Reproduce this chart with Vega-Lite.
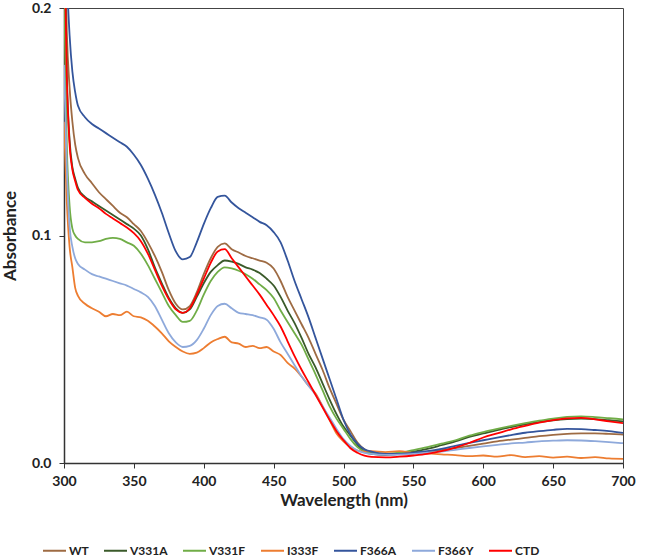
{
  "$schema": "https://vega.github.io/schema/vega-lite/v6.json",
  "width": 559,
  "height": 455,
  "autosize": {"type": "none"},
  "padding": {"left": 64, "top": 8, "right": 22, "bottom": 97},
  "background": "white",
  "config": {"font": "Lato", "view": {"stroke": "#444", "strokeWidth": 1}},
  "data": {"values": [
    {"w":300,"WT":0.25,"V331A":0.24,"V331F":0.21,"I333F":0.15,"F366A":0.26,"F366Y":0.175,"CTD":0.24},
    {"w":302,"WT":0.19,"V331A":0.17,"V331F":0.14,"I333F":0.115,"F366A":0.215,"F366Y":0.13,"CTD":0.17},
    {"w":304,"WT":0.165,"V331A":0.142,"V331F":0.113,"I333F":0.095,"F366A":0.188,"F366Y":0.104,"CTD":0.14},
    {"w":306,"WT":0.15,"V331A":0.13,"V331F":0.103,"I333F":0.086,"F366A":0.172,"F366Y":0.095,"CTD":0.129},
    {"w":308,"WT":0.14,"V331A":0.125,"V331F":0.1,"I333F":0.077,"F366A":0.163,"F366Y":0.09,"CTD":0.124},
    {"w":310,"WT":0.134,"V331A":0.121,"V331F":0.0985,"I333F":0.0735,"F366A":0.157,"F366Y":0.0875,"CTD":0.12},
    {"w":315,"WT":0.127,"V331A":0.117,"V331F":0.097,"I333F":0.07,"F366A":0.152,"F366Y":0.085,"CTD":0.1165},
    {"w":320,"WT":0.123,"V331A":0.115,"V331F":0.097,"I333F":0.068,"F366A":0.149,"F366Y":0.083,"CTD":0.114},
    {"w":325,"WT":0.119,"V331A":0.113,"V331F":0.0975,"I333F":0.0665,"F366A":0.147,"F366Y":0.082,"CTD":0.112},
    {"w":330,"WT":0.116,"V331A":0.111,"V331F":0.0985,"I333F":0.0645,"F366A":0.145,"F366Y":0.081,"CTD":0.1095},
    {"w":335,"WT":0.113,"V331A":0.109,"V331F":0.099,"I333F":0.0655,"F366A":0.143,"F366Y":0.08,"CTD":0.1075},
    {"w":340,"WT":0.11,"V331A":0.107,"V331F":0.0985,"I333F":0.065,"F366A":0.141,"F366Y":0.079,"CTD":0.1055},
    {"w":345,"WT":0.108,"V331A":0.105,"V331F":0.097,"I333F":0.0665,"F366A":0.139,"F366Y":0.078,"CTD":0.1035},
    {"w":350,"WT":0.105,"V331A":0.103,"V331F":0.0955,"I333F":0.0645,"F366A":0.1355,"F366Y":0.0765,"CTD":0.101},
    {"w":355,"WT":0.102,"V331A":0.1,"V331F":0.092,"I333F":0.064,"F366A":0.131,"F366Y":0.075,"CTD":0.0975},
    {"w":360,"WT":0.097,"V331A":0.094,"V331F":0.087,"I333F":0.0625,"F366A":0.125,"F366Y":0.073,"CTD":0.092},
    {"w":365,"WT":0.091,"V331A":0.086,"V331F":0.081,"I333F":0.06,"F366A":0.118,"F366Y":0.069,"CTD":0.085},
    {"w":370,"WT":0.084,"V331A":0.079,"V331F":0.075,"I333F":0.057,"F366A":0.11,"F366Y":0.063,"CTD":0.078},
    {"w":375,"WT":0.076,"V331A":0.0725,"V331F":0.069,"I333F":0.0535,"F366A":0.101,"F366Y":0.057,"CTD":0.072},
    {"w":380,"WT":0.07,"V331A":0.068,"V331F":0.065,"I333F":0.051,"F366A":0.093,"F366Y":0.053,"CTD":0.0675},
    {"w":385,"WT":0.0675,"V331A":0.066,"V331F":0.062,"I333F":0.049,"F366A":0.0895,"F366Y":0.051,"CTD":0.066},
    {"w":390,"WT":0.069,"V331A":0.0675,"V331F":0.0625,"I333F":0.048,"F366A":0.0905,"F366Y":0.0515,"CTD":0.068},
    {"w":395,"WT":0.075,"V331A":0.073,"V331F":0.067,"I333F":0.0485,"F366A":0.097,"F366Y":0.054,"CTD":0.074},
    {"w":400,"WT":0.083,"V331A":0.079,"V331F":0.074,"I333F":0.0505,"F366A":0.105,"F366Y":0.059,"CTD":0.081},
    {"w":405,"WT":0.09,"V331A":0.084,"V331F":0.08,"I333F":0.053,"F366A":0.112,"F366Y":0.065,"CTD":0.088},
    {"w":410,"WT":0.095,"V331A":0.087,"V331F":0.084,"I333F":0.0545,"F366A":0.117,"F366Y":0.069,"CTD":0.093},
    {"w":415,"WT":0.0965,"V331A":0.089,"V331F":0.086,"I333F":0.0555,"F366A":0.1175,"F366Y":0.07,"CTD":0.094},
    {"w":420,"WT":0.094,"V331A":0.0885,"V331F":0.0855,"I333F":0.053,"F366A":0.1145,"F366Y":0.068,"CTD":0.09},
    {"w":425,"WT":0.0925,"V331A":0.0875,"V331F":0.0845,"I333F":0.0525,"F366A":0.112,"F366Y":0.066,"CTD":0.086},
    {"w":430,"WT":0.091,"V331A":0.086,"V331F":0.083,"I333F":0.051,"F366A":0.11,"F366Y":0.0655,"CTD":0.082},
    {"w":435,"WT":0.09,"V331A":0.085,"V331F":0.081,"I333F":0.0515,"F366A":0.108,"F366Y":0.065,"CTD":0.078},
    {"w":440,"WT":0.089,"V331A":0.0835,"V331F":0.0785,"I333F":0.0505,"F366A":0.106,"F366Y":0.064,"CTD":0.074},
    {"w":445,"WT":0.088,"V331A":0.081,"V331F":0.076,"I333F":0.051,"F366A":0.1045,"F366Y":0.063,"CTD":0.0695},
    {"w":450,"WT":0.0855,"V331A":0.078,"V331F":0.0725,"I333F":0.049,"F366A":0.1015,"F366Y":0.059,"CTD":0.065},
    {"w":455,"WT":0.08,"V331A":0.073,"V331F":0.067,"I333F":0.0475,"F366A":0.097,"F366Y":0.053,"CTD":0.06},
    {"w":460,"WT":0.073,"V331A":0.067,"V331F":0.062,"I333F":0.044,"F366A":0.089,"F366Y":0.048,"CTD":0.0535},
    {"w":465,"WT":0.067,"V331A":0.0615,"V331F":0.057,"I333F":0.0415,"F366A":0.08,"F366Y":0.043,"CTD":0.047},
    {"w":470,"WT":0.061,"V331A":0.055,"V331F":0.052,"I333F":0.038,"F366A":0.072,"F366Y":0.038,"CTD":0.041},
    {"w":475,"WT":0.055,"V331A":0.048,"V331F":0.0455,"I333F":0.034,"F366A":0.064,"F366Y":0.034,"CTD":0.0355},
    {"w":480,"WT":0.048,"V331A":0.042,"V331F":0.039,"I333F":0.0305,"F366A":0.055,"F366Y":0.03,"CTD":0.03},
    {"w":485,"WT":0.041,"V331A":0.035,"V331F":0.032,"I333F":0.025,"F366A":0.046,"F366Y":0.025,"CTD":0.0245},
    {"w":490,"WT":0.033,"V331A":0.028,"V331F":0.025,"I333F":0.019,"F366A":0.037,"F366Y":0.02,"CTD":0.019},
    {"w":495,"WT":0.026,"V331A":0.0215,"V331F":0.0195,"I333F":0.013,"F366A":0.028,"F366Y":0.015,"CTD":0.014},
    {"w":500,"WT":0.019,"V331A":0.016,"V331F":0.015,"I333F":0.0095,"F366A":0.019,"F366Y":0.0105,"CTD":0.01},
    {"w":505,"WT":0.014,"V331A":0.012,"V331F":0.0105,"I333F":0.007,"F366A":0.0125,"F366Y":0.0075,"CTD":0.0065},
    {"w":510,"WT":0.009,"V331A":0.008,"V331F":0.007,"I333F":0.0055,"F366A":0.0085,"F366Y":0.0055,"CTD":0.0045},
    {"w":515,"WT":0.006,"V331A":0.005,"V331F":0.005,"I333F":0.005,"F366A":0.006,"F366Y":0.0045,"CTD":0.0032},
    {"w":520,"WT":0.0045,"V331A":0.004,"V331F":0.0042,"I333F":0.0052,"F366A":0.005,"F366Y":0.004,"CTD":0.0027},
    {"w":530,"WT":0.004,"V331A":0.0035,"V331F":0.004,"I333F":0.0048,"F366A":0.004,"F366Y":0.0036,"CTD":0.0025},
    {"w":540,"WT":0.004,"V331A":0.004,"V331F":0.0045,"I333F":0.0052,"F366A":0.004,"F366Y":0.0037,"CTD":0.0028},
    {"w":550,"WT":0.0045,"V331A":0.005,"V331F":0.0057,"I333F":0.0045,"F366A":0.0045,"F366Y":0.004,"CTD":0.0033},
    {"w":560,"WT":0.005,"V331A":0.0062,"V331F":0.007,"I333F":0.0042,"F366A":0.0052,"F366Y":0.0045,"CTD":0.004},
    {"w":570,"WT":0.0057,"V331A":0.0078,"V331F":0.0085,"I333F":0.0038,"F366A":0.0062,"F366Y":0.005,"CTD":0.0052},
    {"w":580,"WT":0.0065,"V331A":0.0095,"V331F":0.01,"I333F":0.0035,"F366A":0.0075,"F366Y":0.0058,"CTD":0.0068},
    {"w":590,"WT":0.0075,"V331A":0.0115,"V331F":0.012,"I333F":0.003,"F366A":0.0088,"F366Y":0.0066,"CTD":0.0088},
    {"w":600,"WT":0.0085,"V331A":0.013,"V331F":0.0136,"I333F":0.0033,"F366A":0.01,"F366Y":0.0073,"CTD":0.0112},
    {"w":610,"WT":0.0095,"V331A":0.0145,"V331F":0.015,"I333F":0.0028,"F366A":0.0112,"F366Y":0.008,"CTD":0.013},
    {"w":620,"WT":0.0103,"V331A":0.0158,"V331F":0.0163,"I333F":0.0035,"F366A":0.0123,"F366Y":0.0086,"CTD":0.0148},
    {"w":630,"WT":0.011,"V331A":0.017,"V331F":0.0175,"I333F":0.0026,"F366A":0.0133,"F366Y":0.009,"CTD":0.0163},
    {"w":640,"WT":0.0118,"V331A":0.018,"V331F":0.0186,"I333F":0.003,"F366A":0.014,"F366Y":0.0095,"CTD":0.0177},
    {"w":650,"WT":0.0124,"V331A":0.0188,"V331F":0.0195,"I333F":0.0024,"F366A":0.0146,"F366Y":0.0098,"CTD":0.0188},
    {"w":660,"WT":0.0128,"V331A":0.0193,"V331F":0.0203,"I333F":0.0028,"F366A":0.015,"F366Y":0.01,"CTD":0.0196},
    {"w":670,"WT":0.013,"V331A":0.0195,"V331F":0.0205,"I333F":0.0022,"F366A":0.0149,"F366Y":0.0099,"CTD":0.0198},
    {"w":680,"WT":0.013,"V331A":0.0193,"V331F":0.0202,"I333F":0.0026,"F366A":0.0145,"F366Y":0.0096,"CTD":0.0192},
    {"w":690,"WT":0.0128,"V331A":0.0188,"V331F":0.0197,"I333F":0.002,"F366A":0.014,"F366Y":0.0092,"CTD":0.0183},
    {"w":700,"WT":0.0125,"V331A":0.0183,"V331F":0.0192,"I333F":0.0018,"F366A":0.0132,"F366Y":0.0087,"CTD":0.0175}
  ]},
  "transform": [{"fold": ["WT","V331A","V331F","I333F","F366A","F366Y","CTD"], "as": ["Sample","A"]}],
  "mark": {"type": "line", "strokeWidth": 1.8, "clip": true, "interpolate": "monotone"},
  "encoding": {
    "x": {"field": "w", "type": "quantitative",
      "scale": {"domain": [300, 700], "nice": false, "zero": false},
      "axis": {"values": [300,350,400,450,500,550,600,650,700], "title": "Wavelength (nm)", "grid": false,
        "titleFontSize": 17, "titleFontWeight": "bold", "titleColor": "#222", "titlePadding": 4,
        "labelFontSize": 14, "labelFontWeight": "bold", "labelColor": "#222", "labelPadding": 6,
        "tickSize": 5, "tickColor": "#333", "domainColor": "#333", "domainWidth": 1.5, "labelFlush": false}},
    "y": {"field": "A", "type": "quantitative",
      "scale": {"domain": [0, 0.2], "nice": false},
      "axis": {"values": [0, 0.1, 0.2], "format": ".1f", "title": "Absorbance", "grid": false,
        "titleFontSize": 17, "titleFontWeight": "bold", "titleColor": "#222", "titlePadding": 12,
        "labelFontSize": 14, "labelFontWeight": "bold", "labelColor": "#222", "labelPadding": 8,
        "tickSize": 5, "tickColor": "#333", "domainColor": "#333", "domainWidth": 1.5}},
    "color": {"field": "Sample", "type": "nominal",
      "scale": {"domain": ["WT","V331A","V331F","I333F","F366A","F366Y","CTD"],
        "range": ["#9E6B43","#3A5A2A","#70AD47","#ED7D31","#34559C","#8EA9DB","#FF0000"]},
      "legend": {"orient": "none", "legendX": -22, "legendY": 530, "direction": "horizontal", "title": null,
        "symbolType": "stroke", "symbolSize": 529, "symbolStrokeWidth": 2, "labelFontSize": 12,
        "labelFontWeight": "bold", "labelColor": "#222", "labelOffset": 2, "columnPadding": 11}}
  }
}
